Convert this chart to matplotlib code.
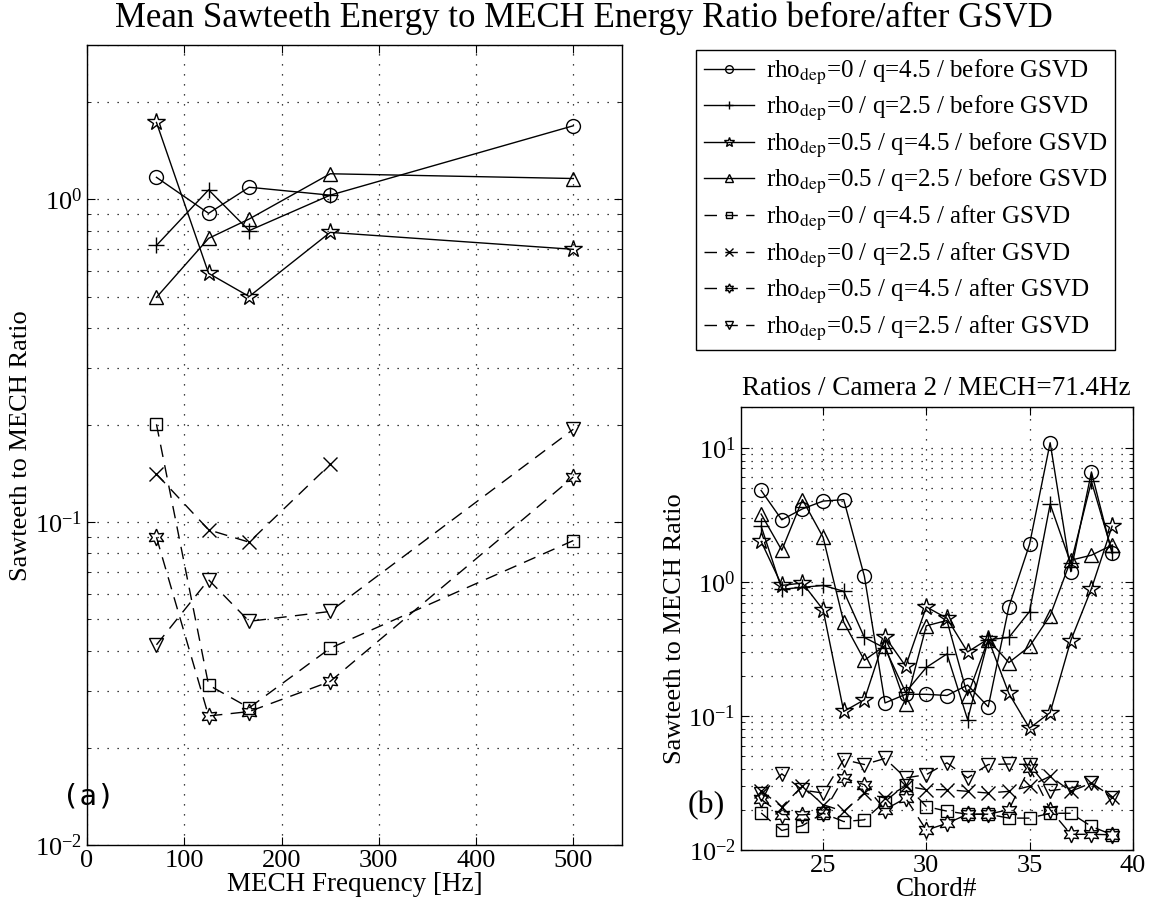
import numpy as np
import matplotlib
matplotlib.use('Agg')
import matplotlib.pyplot as plt
from matplotlib.ticker import LogLocator, NullFormatter, FixedLocator

plt.rcParams['font.family'] = ['Liberation Serif', 'DejaVu Serif']
plt.rcParams['mathtext.fontset'] = 'stix'

nan = np.nan

# (a) mean ratio vs MECH frequency
freq = [71.4, 125, 166.7, 250, 500]
r0_q45_bef = [1.17, 0.905, 1.09, 1.03, 1.69]
r0_q25_bef = [0.72, 1.07, 0.80, 1.03, nan]
r05_q45_bef = [1.73, 0.59, 0.50, 0.79, 0.70]
r05_q25_bef = [0.497, 0.757, 0.869, 1.20, 1.16]
r0_q45_aft = [0.201, 0.0313, 0.0266, 0.0407, 0.0877]
r0_q25_aft = [0.141, 0.0947, 0.0867, 0.151, nan]
r05_q45_aft = [0.0898, 0.0251, 0.0259, 0.0321, 0.138]
r05_q25_aft = [0.0417, 0.0663, 0.0493, 0.0529, 0.194]

# (b) per chord, camera 2, MECH = 71.4 Hz
chords = [22, 23, 24, 25, 26, 27, 28, 29, 30, 31, 32, 33, 34, 35, 36, 37, 38, 39]
c_r0_q45_bef = [4.8, 2.9, 3.5, 4.0, 4.1, 1.1, 0.125, 0.145, 0.145, 0.142, 0.17, 0.117,
                0.65, 1.9, 10.9, 1.19, 6.6, 1.63]
c_r0_q25_bef = [2.6, 0.88, 0.91, 0.94, 0.85, 0.385, 0.32, 0.15, 0.23, 0.29, 0.094, 0.37,
                0.385, 0.6, 3.8, 1.37, 5.6, 1.68]
c_r05_q45_bef = [2.0, 0.94, 0.98, 0.62, 0.108, 0.132, 0.39, 0.235, 0.65, 0.535, 0.30, 0.375,
                 0.147, 0.081, 0.106, 0.365, 0.89, 2.6]
c_r05_q25_bef = [3.2, 1.72, 4.1, 2.15, 0.5, 0.26, 0.335, 0.122, 0.47, 0.515, 0.142, 0.37,
                 0.25, 0.33, 0.56, 1.45, 1.58, 1.88]
c_r0_q45_aft = [0.0189, 0.014, 0.0152, 0.0188, 0.0163, 0.0168, 0.023, 0.0308, 0.0211, 0.0195,
                0.0185, 0.0185, 0.0173, 0.0173, 0.0188, 0.0188, 0.015, 0.013]
c_r0_q25_aft = [0.0277, 0.021, 0.030, 0.0218, 0.0194, 0.0266, 0.0244, 0.030, 0.0282, 0.0282,
                0.0274, 0.0266, 0.0274, 0.0299, 0.0355, 0.0274, 0.0316, 0.025]
c_r05_q45_aft = [0.0239, 0.0184, 0.0183, 0.0188, 0.0344, 0.0307, 0.020, 0.0244, 0.0141, 0.0158,
                 0.0185, 0.0185, 0.020, 0.041, 0.020, 0.0131, 0.0131, 0.013]
c_r05_q25_aft = [0.026, 0.037, 0.028, 0.0266, 0.0473, 0.0434, 0.0482, 0.0345, 0.0365, 0.0447,
                 0.0345, 0.0434, 0.0438, 0.0434, 0.0277, 0.029, 0.0316, 0.0244]

labels = [r'rho$_{\rm dep}$=0 / q=4.5 / before GSVD',
          r'rho$_{\rm dep}$=0 / q=2.5 / before GSVD',
          r'rho$_{\rm dep}$=0.5 / q=4.5 / before GSVD',
          r'rho$_{\rm dep}$=0.5 / q=2.5 / before GSVD',
          r'rho$_{\rm dep}$=0 / q=4.5 / after GSVD',
          r'rho$_{\rm dep}$=0 / q=2.5 / after GSVD',
          r'rho$_{\rm dep}$=0.5 / q=4.5 / after GSVD',
          r'rho$_{\rm dep}$=0.5 / q=2.5 / after GSVD']
markers = ['o', '+', '*', '^', 's', 'x', (6, 1, 0), 'v']
sizes = [10, 11, 13, 10, 9, 10, 12, 10]
dash = (0, (9, 6))
styles = ['-', '-', '-', '-', dash, dash, dash, dash]

fs = 19
fig = plt.figure(figsize=(11.68, 9.15), dpi=100)
ax1 = fig.add_axes([0.0745, 0.0765, 0.458, 0.874])
ax2 = fig.add_axes([0.634, 0.071, 0.3358, 0.4838])


def draw(ax, x, series):
    handles = []
    for y, m, ms, ls, lab in zip(series, markers, sizes, styles, labels):
        h, = ax.plot(x, y, color='k', lw=1.0, linestyle=ls, marker=m, ms=ms,
                     mfc='none', mec='k', mew=1.0, label=lab)
        handles.append(h)
    return handles


def style(ax):
    ax.set_yscale('log')
    ax.yaxis.set_major_locator(LogLocator(base=10))
    ax.yaxis.set_minor_locator(LogLocator(base=10, subs=np.arange(2, 10)))
    ax.yaxis.set_minor_formatter(NullFormatter())
    ax.grid(True, which='both', axis='y', color='k', lw=0.9, linestyle=(0, (1, 7)))
    ax.grid(True, which='major', axis='x', color='k', lw=0.9, linestyle=(0, (1, 7)))
    ax.tick_params(which='both', direction='in', top=True, right=True, labelsize=fs)
    ax.tick_params(which='major', length=6)
    ax.tick_params(which='minor', length=3)
    for s in ax.spines.values():
        s.set_linewidth(1.0)


h = draw(ax1, freq, [r0_q45_bef, r0_q25_bef, r05_q45_bef, r05_q25_bef,
                     r0_q45_aft, r0_q25_aft, r05_q45_aft, r05_q25_aft])
style(ax1)
ax1.set_xlim(0, 550)
ax1.set_ylim(0.01, 3)
ax1.xaxis.set_major_locator(FixedLocator([0, 100, 200, 300, 400, 500]))
ax1.set_xlabel('MECH Frequency [Hz]', fontsize=fs + 0.5, labelpad=0)
ax1.set_ylabel('Sawteeth to MECH Ratio', fontsize=fs, labelpad=2)

draw(ax2, chords, [c_r0_q45_bef, c_r0_q25_bef, c_r05_q45_bef, c_r05_q25_bef,
                   c_r0_q45_aft, c_r0_q25_aft, c_r05_q45_aft, c_r05_q25_aft])
style(ax2)
ax2.set_xlim(21, 40)
ax2.set_ylim(0.01, 20)
ax2.xaxis.set_major_locator(FixedLocator([25, 30, 35, 40]))
ax2.set_xlabel('Chord#', fontsize=fs + 0.5, labelpad=0)
ax2.set_ylabel('Sawteeth to MECH Ratio', fontsize=fs, labelpad=2)
ax2.set_title('Ratios / Camera 2 / MECH=71.4Hz', fontsize=fs + 0.5, pad=9)

fig.text(0.5, 0.98, 'Mean Sawteeth Energy to MECH Energy Ratio before/after GSVD',
         ha='center', va='center', fontsize=25)
fig.text(62 / 1168, 1 - 797 / 915, '(a)', family='DejaVu Sans Mono', fontsize=21,
         va='center', ha='left')
fig.text(688 / 1168, 1 - 806 / 915, '(b)', fontsize=23, va='center', ha='left')

leg = fig.legend(handles=h, loc='upper left', bbox_to_anchor=(696 / 1168, 1 - 50 / 915),
                 fontsize=18, frameon=True, fancybox=False, framealpha=1,
                 edgecolor='k', handlelength=2.0, handletextpad=0.5,
                 labelspacing=0.3, borderpad=0.3, markerscale=0.55, borderaxespad=0)
leg.get_frame().set_linewidth(1.0)

fig.savefig('out.png', dpi=100)
